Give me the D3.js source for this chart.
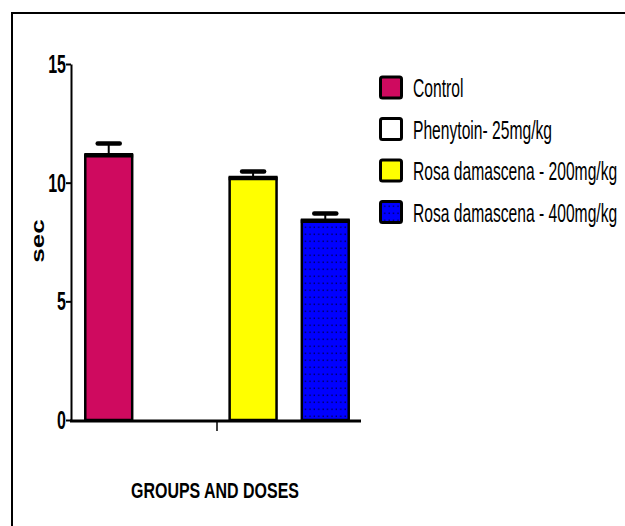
<!DOCTYPE html>
<html>
<head>
<meta charset="utf-8">
<script src="https://cdn.jsdelivr.net/npm/d3@7"></script>
<style>
  html, body { margin: 0; padding: 0; background: #fff; }
  svg { display: block; }
  text { font-family: "Liberation Sans", Arial, sans-serif; fill: #000; }
</style>
</head>
<body>
<svg id="chart" width="625" height="526"></svg>
<script>
// bar chart: latency (sec) per group, mean + SEM
const groups = ['Control', 'Phenytoin- 25mg/kg', 'Rosa damascena - 200mg/kg', 'Rosa damascena - 400mg/kg'];
const means  = [11.15, 0, 10.2, 8.4];
const sems   = [0.5, 0, 0.27, 0.3];
const colors = ['#cf0a5f', '#ffffff', '#ffff00', '#0000ff'];
const yTicks = [0, 5, 10, 15];

const data = groups.map((g, i) => ({ g, mean: means[i], sem: sems[i], color: colors[i] }));

const svg = d3.select('#chart');

// pattern for the dotted blue bar
const defs = svg.append('defs');
const pat = defs.append('pattern')
    .attr('id', 'dots')
    .attr('patternUnits', 'userSpaceOnUse')
    .attr('width', 4.4).attr('height', 7);
pat.append('rect').attr('width', 4.4).attr('height', 7).attr('fill', '#0000ff');
pat.append('rect').attr('x', 1.5).attr('y', 2.5).attr('width', 0.8).attr('height', 1.6).attr('fill', '#000');

// outer frame (left + top only)
svg.append('path')
    .attr('d', 'M12,526V13H625')
    .attr('fill', 'none')
    .attr('stroke', '#000')
    .attr('stroke-width', 2);

const x = d3.scaleBand()
    .domain(groups)
    .range([73, 361])
    .paddingInner(0.35)
    .paddingOuter(0.17);

const y = d3.scaleLinear().domain([0, 15]).range([420, 64]);

// y axis
const yAxis = svg.append('g')
    .attr('transform', 'translate(71,0)')
    .call(d3.axisLeft(y).tickValues(yTicks).tickSize(5).tickSizeOuter(0).tickFormat(''));
yAxis.select('.domain').attr('stroke-width', 2);
yAxis.selectAll('.tick line').attr('stroke-width', 2);

yTicks.forEach(t => {
    svg.append('g')
        .attr('transform', `translate(66,${y(t)}) scale(0.64,1)`)
        .append('text')
        .attr('text-anchor', 'end')
        .attr('dy', '0.36em')
        .attr('font-size', 25)
        .attr('font-weight', 'bold')
        .text(t);
});

// bars
const bars = svg.append('g');
bars.selectAll('rect')
    .data(data.filter(d => d.mean > 0))
    .join('rect')
    .attr('x', d => x(d.g))
    .attr('y', d => y(d.mean))
    .attr('width', x.bandwidth())
    .attr('height', d => y(0) - y(d.mean))
    .attr('fill', d => d.g === groups[3] ? 'url(#dots)' : d.color)
    .attr('stroke', '#000')
    .attr('stroke-width', 2.5);

// heavy top edge
bars.selectAll('line.top')
    .data(data.filter(d => d.mean > 0))
    .join('line')
    .attr('class', 'top')
    .attr('x1', d => x(d.g) - 1)
    .attr('x2', d => x(d.g) + x.bandwidth() + 1)
    .attr('y1', d => y(d.mean))
    .attr('y2', d => y(d.mean))
    .attr('stroke', '#000')
    .attr('stroke-width', 4.5);

// error bars (SEM, upper only)
const err = svg.append('g');
data.filter(d => d.mean > 0).forEach(d => {
    const cx = x(d.g) + x.bandwidth() / 2;
    err.append('line')
        .attr('x1', cx).attr('x2', cx)
        .attr('y1', y(d.mean)).attr('y2', y(d.mean + d.sem))
        .attr('stroke', '#000').attr('stroke-width', 2);
    err.append('line')
        .attr('x1', cx - 11).attr('x2', cx + 11)
        .attr('y1', y(d.mean + d.sem)).attr('y2', y(d.mean + d.sem))
        .attr('stroke', '#000').attr('stroke-width', 4.5)
        .attr('stroke-linecap', 'round');
});

// x axis: one tick in the middle of the group
svg.append('line')
    .attr('x1', 70).attr('x2', 361)
    .attr('y1', y(0) + 1).attr('y2', y(0) + 1)
    .attr('stroke', '#000').attr('stroke-width', 3);
const midX = (x(groups[0]) + x(groups[3]) + x.bandwidth()) / 2;
svg.append('line')
    .attr('x1', midX).attr('x2', midX)
    .attr('y1', y(0) + 2).attr('y2', y(0) + 11)
    .attr('stroke', '#000').attr('stroke-width', 1.5);

// axis titles
svg.append('g')
    .attr('transform', 'translate(44,241) scale(0.72,1) rotate(-90)')
    .append('text')
    .attr('text-anchor', 'middle')
    .attr('font-size', 26)
    .attr('font-weight', 'bold')
    .text('sec');

svg.append('g')
    .attr('transform', `translate(${midX - 2},498) scale(0.71,1)`)
    .append('text')
    .attr('text-anchor', 'middle')
    .attr('font-size', 22.5)
    .attr('font-weight', 'bold')
    .text('GROUPS AND DOSES');

// legend
const legendY = d3.scalePoint().domain(groups).range([87.5, 212]);
const legend = svg.append('g');
data.forEach(d => {
    const cy = legendY(d.g);
    legend.append('rect')
        .attr('x', 380.5).attr('y', cy - 10.5)
        .attr('width', 21).attr('height', 21)
        .attr('rx', 2)
        .attr('fill', d.g === groups[3] ? 'url(#dots)' : d.color)
        .attr('stroke', '#000')
        .attr('stroke-width', 3);
    legend.append('g')
        .attr('transform', `translate(413,${cy}) scale(0.59,1)`)
        .append('text')
        .attr('dy', '0.36em')
        .attr('font-size', 26.5)
        .text(d.g);
});
</script>
</body>
</html>
